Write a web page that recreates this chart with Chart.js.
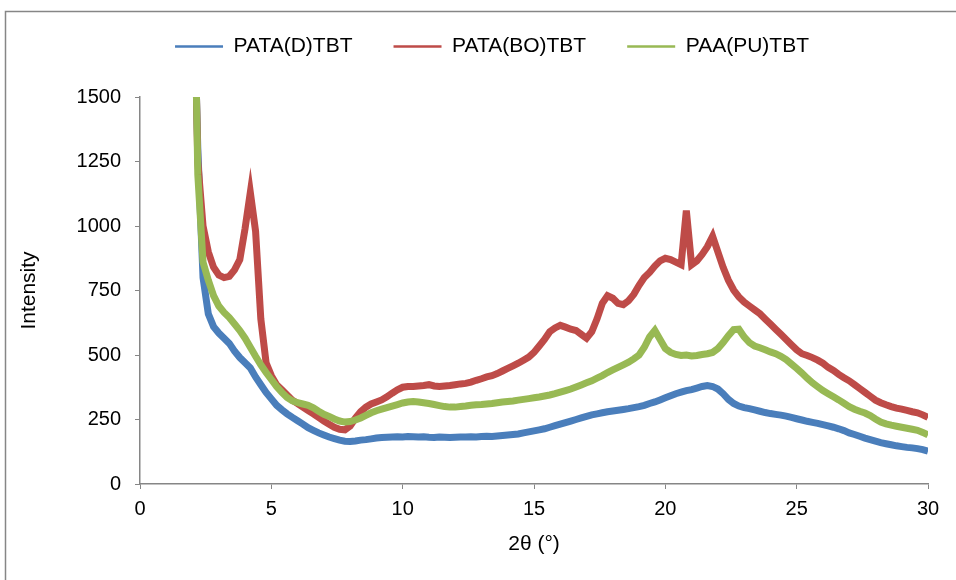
<!DOCTYPE html>
<html><head><meta charset="utf-8">
<script src="https://cdn.jsdelivr.net/npm/chart.js@4.4.0/dist/chart.umd.min.js"></script>
<style>html,body{margin:0;padding:0;background:#fff;}#wrap{position:relative;width:956px;height:580px;}</style>
</head><body><div id="wrap"><canvas id="c" width="956" height="580"></canvas></div>
<script>
// 2θ positions (degrees)
const twoTheta = [2.15,
 2.2,2.4,2.6,2.8,3.0,3.2,3.4,3.6,3.8,4.0,
 4.2,4.4,4.6,4.8,5.0,5.2,5.4,5.6,5.8,6.0,
 6.2,6.4,6.6,6.8,7.0,7.2,7.4,7.6,7.8,8.0,
 8.2,8.4,8.6,8.8,9.0,9.2,9.4,9.6,9.8,10.0,
 10.2,10.4,10.6,10.8,11.0,11.2,11.4,11.6,11.8,12.0,
 12.2,12.4,12.6,12.8,13.0,13.2,13.4,13.6,13.8,14.0,
 14.2,14.4,14.6,14.8,15.0,15.2,15.4,15.6,15.8,16.0,
 16.2,16.4,16.6,16.8,17.0,17.2,17.4,17.6,17.8,18.0,
 18.2,18.4,18.6,18.8,19.0,19.2,19.4,19.6,19.8,20.0,
 20.2,20.4,20.6,20.8,21.0,21.2,21.4,21.6,21.8,22.0,
 22.2,22.4,22.6,22.8,23.0,23.2,23.4,23.6,23.8,24.0,
 24.2,24.4,24.6,24.8,25.0,25.2,25.4,25.6,25.8,26.0,
 26.2,26.4,26.6,26.8,27.0,27.2,27.4,27.6,27.8,28.0,
 28.2,28.4,28.6,28.8,29.0,29.2,29.4,29.6,29.8,30.0];

const seriesNames = ['PATA(D)TBT', 'PATA(BO)TBT', 'PAA(PU)TBT'];

const pataD = [1500,
 1300,800,660,610,585,565,545,515,490,470,
 450,415,385,355,330,305,288,272,258,245,
 232,218,208,198,190,182,176,170,166,165,
 167,170,172,175,178,180,181,182,183,182,
 184,183,182,183,181,180,182,181,180,181,
 182,182,183,182,184,185,184,186,188,190,
 192,194,198,202,206,210,214,220,226,232,
 238,244,250,256,262,268,272,276,280,283,
 286,289,292,296,300,305,312,318,326,334,
 342,350,356,362,366,372,378,382,378,368,
 350,328,312,302,296,292,287,282,277,273,
 270,267,263,258,253,248,243,239,235,230,
 225,220,214,207,198,192,185,178,172,166,
 160,156,152,148,145,142,140,137,133,127];

const pataBO = [1500,
 1250,1000,900,840,810,800,805,830,870,990,
 1130,980,640,470,420,385,365,345,325,312,
 298,285,272,258,244,232,220,212,210,225,
 255,280,298,310,318,326,338,352,365,375,
 378,378,380,382,385,380,378,380,382,385,
 388,390,395,402,408,415,420,428,438,448,
 458,468,480,492,510,535,560,590,605,615,
 608,600,595,580,565,590,640,700,730,720,
 700,695,710,735,770,800,820,845,865,875,
 870,860,850,1060,850,865,890,920,960,900,
 840,790,752,725,705,690,675,660,640,620,
 600,580,560,540,520,505,498,490,480,468,
 452,440,425,412,400,385,370,355,340,325,
 315,307,300,294,290,285,280,276,268,258];

const paaPU = [1500,
 1200,860,790,730,690,665,645,620,595,565,
 530,495,462,432,405,378,355,335,322,315,
 310,305,295,282,270,262,252,244,240,242,
 248,256,266,276,284,290,296,302,308,314,
 318,320,318,315,312,308,304,300,298,298,
 300,302,305,307,308,310,312,315,318,320,
 322,325,328,331,334,337,341,345,350,356,
 362,368,376,384,392,400,410,420,432,442,
 452,462,472,485,500,530,570,595,560,525,
 510,502,498,500,496,498,502,505,510,525,
 548,575,598,600,570,548,535,528,520,512,
 505,495,482,465,448,430,410,392,377,362,
 350,338,326,313,300,290,282,275,265,252,
 240,233,228,224,220,216,212,208,200,190];

const yTicks = [0, 250, 500, 750, 1000, 1250, 1500];
const xTicks = [0, 5, 10, 15, 20, 25, 30];
const colors = ['#4A7EBB', '#BE4B48', '#98B954'];

const toPts = arr => arr.map((v, i) => ({x: twoTheta[i], y: v}));
const seriesValues = [pataD, pataBO, paaPU];
const drawOrder = [2, 1, 0];

Chart.defaults.font.family = "'Liberation Sans', Arial, sans-serif";
Chart.defaults.color = '#000';

const frame = {
  id: 'frame',
  afterInit(chart) {
    const lg = chart.legend;
    if (lg) {
      const f = lg.fit.bind(lg);
      lg.fit = function () { f(); this.height = 97; };
    }
  },
  afterLayout(chart) {
    const lg = chart.legend;
    if (lg) { lg.left += 28; lg.right += 28; lg.top -= 5; lg.bottom -= 5; }
  },
  beforeDraw(chart) {
    const ctx = chart.ctx;
    ctx.save();
    ctx.fillStyle = '#fff';
    ctx.fillRect(0, 0, chart.width, chart.height);
    ctx.strokeStyle = '#868686';
    ctx.lineWidth = 1.5;
    ctx.strokeRect(5.5, 11.5, 1200, 1200);
    ctx.restore();
  }
};

new Chart(document.getElementById('c'), {
  type: 'line',
  data: {
    datasets: seriesValues.map((vals, k) => ({
      label: seriesNames[k],
      data: toPts(vals),
      borderColor: colors[k],
      backgroundColor: colors[k],
      borderWidth: 7,
      pointRadius: 0,
      tension: 0,
      order: drawOrder[k]
    }))
  },
  options: {
    responsive: false,
    animation: false,
    devicePixelRatio: 1,
    layout: {padding: {top: 0, left: 0, right: 28, bottom: 0}},
    plugins: {
      tooltip: {enabled: false},
      legend: {
        position: 'top',
        labels: {
          font: {size: 21},
          usePointStyle: true,
          pointStyle: 'line',
          pointStyleWidth: 48,
          padding: 41,
          generateLabels(chart) {
            const items = Chart.defaults.plugins.legend.labels.generateLabels(chart);
            items.forEach(it => { it.lineWidth = 2.5; it.pointStyle = 'line'; });
            return items.sort((a, b) => a.datasetIndex - b.datasetIndex);
          }
        }
      }
    },
    scales: {
      x: {
        type: 'linear', min: 0, max: 30,
        afterBuildTicks: s => { s.ticks = xTicks.map(v => ({value: v})); },
        afterFit: s => { s.height = 96; },
        grid: {display: true, drawOnChartArea: false, drawTicks: true, tickLength: 5, color: '#868686'},
        border: {color: '#868686', width: 1.5},
        ticks: {font: {size: 20}, padding: 8, maxRotation: 0, callback: v => String(v)},
        title: {display: true, text: '2θ (°)', font: {size: 21}, padding: {top: 4, bottom: 23}}
      },
      y: {
        min: 0, max: 1500,
        afterBuildTicks: s => { s.ticks = yTicks.map(v => ({value: v})); },
        afterFit: s => { s.width = 140; },
        grid: {display: true, drawOnChartArea: false, drawTicks: true, tickLength: 5, color: '#868686'},
        border: {color: '#868686', width: 1.5},
        ticks: {font: {size: 20}, padding: 14, callback: v => String(v)},
        title: {display: true, text: 'Intensity', font: {size: 21}, padding: {top: 17, bottom: 4}}
      }
    }
  },
  plugins: [frame]
});
</script></body></html>
